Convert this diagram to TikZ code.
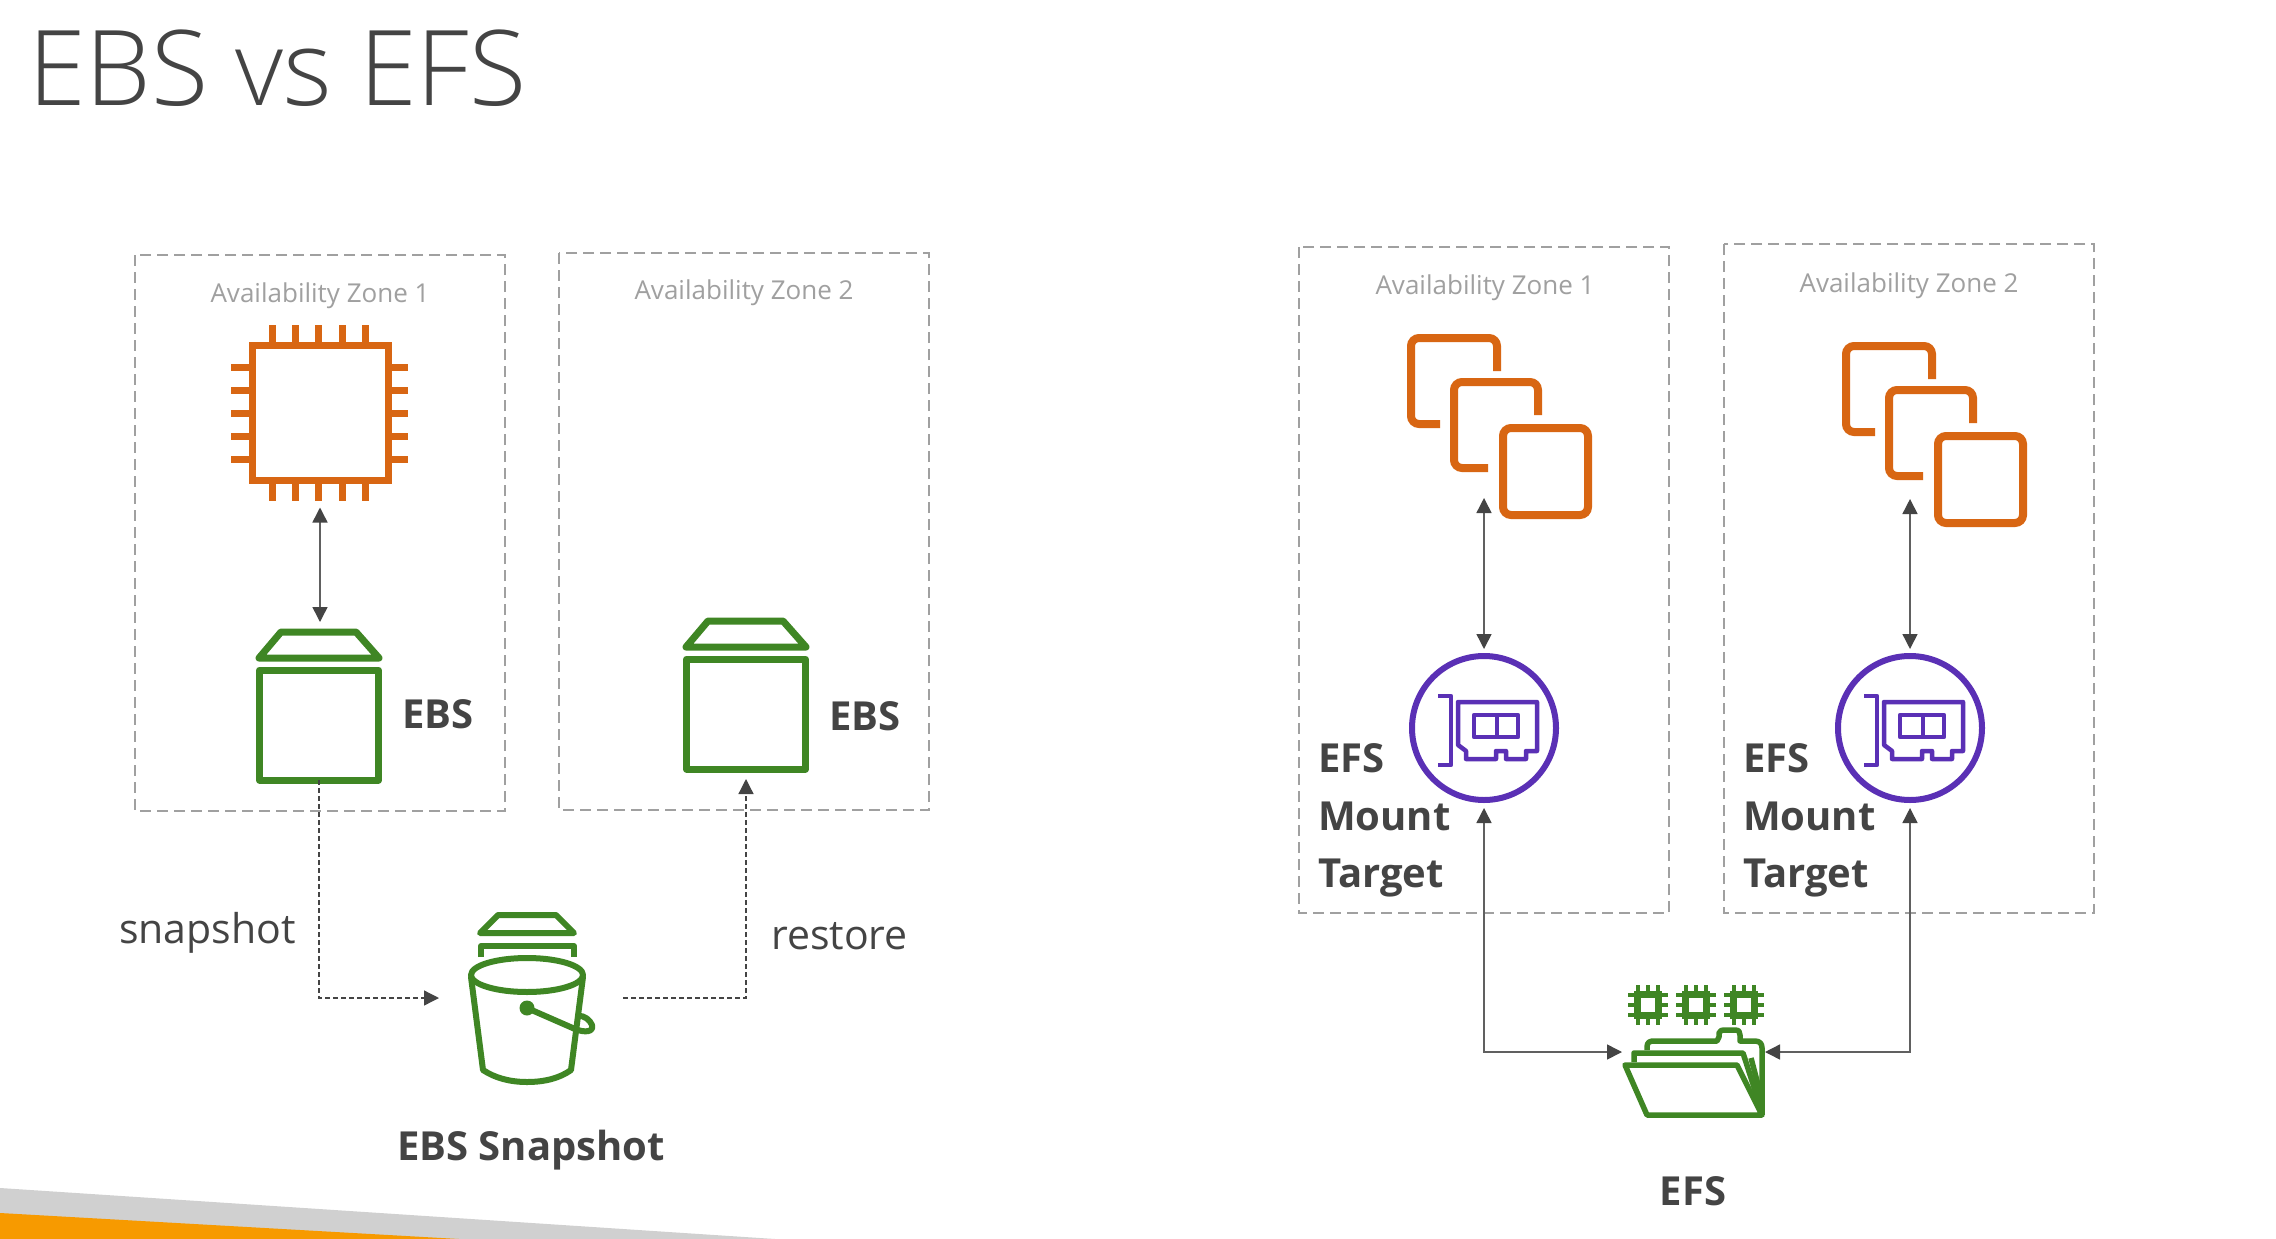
\documentclass[tikz,border=0pt]{standalone}
\usepackage{fontspec}
\setmainfont{Open Sans}
\newfontfamily\titlefont{Open Sans Light}
\usetikzlibrary{arrows.meta,calc}
\definecolor{awsorange}{HTML}{D86613}
\definecolor{awsgreen}{HTML}{3F8624}
\definecolor{awspurple}{HTML}{5A30B5}
\definecolor{inkgray}{HTML}{444444}
\definecolor{zonegray}{HTML}{A0A0A0}
\definecolor{footgray}{HTML}{D0D0D0}
\definecolor{footorange}{HTML}{F79A00}
\tikzset{
  zone/.style={draw=zonegray,line width=2pt,dash pattern=on 11pt off 6pt,fill=none,inner sep=0pt,outer sep=0pt},
  zonelabel/.style={text=zonegray,font=\fontsize{26}{30}\selectfont,anchor=base},
  boldlabel/.style={text=inkgray,font=\fontsize{40}{48}\selectfont\bfseries,anchor=base west,inner sep=0pt},
  plainlabel/.style={text=inkgray,font=\fontsize{41}{48}\selectfont,anchor=base west,inner sep=0pt},
  solidlink/.style={draw=inkgray!85,line width=1.5pt},
  dashlink/.style={draw=inkgray,line width=1.3pt,dash pattern=on 5pt off 3pt},
  tip/.style={-{Triangle[length=15pt,width=15pt,color=inkgray]}},
  bothtips/.style={{Triangle[length=15pt,width=15pt,color=inkgray]}-{Triangle[length=15pt,width=15pt,color=inkgray]}},
  ebsline/.style={draw=awsgreen,line width=7pt,line join=round},
  bucketline/.style={draw=awsgreen,line width=6pt,line join=round,line cap=round},
  folderline/.style={draw=awsgreen,line width=5.5pt,line join=round},
  stack/.style={draw=awsorange,line width=8pt,rounded corners=8pt},
  nicline/.style={draw=awspurple,line width=4.5pt,line join=round},
  chipline/.style={draw=awsorange,line width=7pt},
  ghost/.style={inner sep=0pt,outer sep=0pt},
}
\newcommand{\ebsicon}[3]{% name, dx, dy
  \begin{scope}[shift={(#2,#3)}]
    \draw[ebsline] (259,658) -- (281,632) -- (356,632) -- (379,658) -- cycle;
    \node[ebsline,ghost,minimum width=119pt,minimum height=110pt] (#1) at (319,725) {};
  \end{scope}}
\newcommand{\stackicon}[2]{% dx, dy
  \begin{scope}[shift={(#1,#2)}]
    \draw[stack] (1440,424) -- (1411,424) -- (1411,338) -- (1497,338) -- (1497,371);
    \draw[stack] (1488,468) -- (1454,468) -- (1454,382) -- (1538,382) -- (1538,415);
    \draw[stack] (1503,428) rectangle (1588,515);
  \end{scope}}
\newcommand{\mounticon}[3]{% name, dx, dy
  \begin{scope}[shift={(#2,#3)}]
    \node[draw=awspurple,line width=6pt,circle,ghost,minimum size=144pt] (#1) at (1484,728) {};
    \draw[nicline] (1438,696) -- (1451,696) -- (1451,765) -- (1438,765);
    \draw[nicline] (1458,745) -- (1458,702) -- (1537,702) -- (1537,751) -- (1526,751) -- (1526,759) -- (1506,759) -- (1506,751) -- (1496,751) -- (1496,759) -- (1466,759) -- (1466,751) -- cycle;
    \draw[nicline] (1474,715) rectangle (1518,737);
    \draw[nicline] (1497,715) -- (1497,737);
  \end{scope}}
\newcommand{\minichip}[2]{%
  \begin{scope}[shift={(#1,#2)}]
    \draw[draw=awsgreen,line width=7pt] (-10.5,-10.5) rectangle (10.5,10.5);
    \foreach \p in {-10,0,10}{
      \draw[draw=awsgreen,line width=4pt] (\p,-20) -- (\p,-13);
      \draw[draw=awsgreen,line width=4pt] (\p,13) -- (\p,20);
      \draw[draw=awsgreen,line width=4pt] (-20,\p) -- (-13,\p);
      \draw[draw=awsgreen,line width=4pt] (13,\p) -- (20,\p);
    }
  \end{scope}}
\begin{document}
\begin{tikzpicture}[x=1pt,y=-1pt]
\useasboundingbox (0,0) rectangle (2276,1239);
\fill[white] (0,0) rectangle (2276,1239);

% footer
\fill[footgray] (0,1188) -- (775,1239) -- (0,1239) -- cycle;
\fill[footorange] (0,1213) -- (459,1239) -- (0,1239) -- cycle;

% title
\node[anchor=base west,inner sep=0pt,text=inkgray,font=\titlefont\fontsize{104.5}{120}\selectfont] (title) at (28,106) {EBS vs EFS};

% zones
\draw[zone] (135,255) rectangle (505,811);
\draw[zone] (559,253) rectangle (929,810);
\draw[zone] (1299,247) rectangle (1669,913);
\draw[zone] (1724,244) rectangle (2094,913);
\node[zonelabel] (lz1) at (320,302) {Availability Zone 1};
\node[zonelabel] (lz2) at (744,299) {Availability Zone 2};
\node[zonelabel] (rz1) at (1485,294) {Availability Zone 1};
\node[zonelabel] (rz2) at (1909,292) {Availability Zone 2};

% chip
\node[chipline,ghost,minimum width=136pt,minimum height=135pt] (chip) at (320,413) {};
\foreach \p in {272,295,318,342,365}{
  \draw[chipline] (\p,325) -- (\p,345);
  \draw[chipline] (\p,480) -- (\p,501);
}
\foreach \p in {367,390,413,436,459}{
  \draw[chipline] (231,\p) -- (252,\p);
  \draw[chipline] (388,\p) -- (408,\p);
}

% EBS volumes
\ebsicon{ebsa}{0}{0}
\ebsicon{ebsb}{427}{-11}
\node[boldlabel] (ebsalabel) at (402,728) {EBS};
\node[boldlabel] (ebsblabel) at (829,730) {EBS};

% bucket
\node[ghost,minimum width=184pt,minimum height=10pt] (bucket) at (531,998) {};
\draw[bucketline] (480,933) -- (498,915) -- (556,915) -- (574,933) -- cycle;
\draw[bucketline,line cap=butt] (481,957) -- (481,946) -- (574,946) -- (574,957);
\draw[bucketline] (527,975) ellipse [x radius=56,y radius=17];
\draw[bucketline] (471,977) -- (483,1070) .. controls (495,1078) and (510,1082) .. (527,1082) .. controls (545,1082) and (560,1078) .. (571,1070) -- (583,977);
\fill[awsgreen] (527,1008) circle (7.5);
\draw[bucketline] (527,1008) -- (575,1029) .. controls (585,1033) and (594,1032) .. (592,1025) .. controls (590,1020) and (584,1015) .. (578,1016);
\node[boldlabel,anchor=base] (bucketlabel) at (531,1160) {EBS Snapshot};

% instance stacks
\stackicon{0}{0}
\stackicon{435}{8}

% mount targets
\mounticon{mounta}{0}{0}
\mounticon{mountb}{426}{0}
\foreach \nm/\xx in {a/1318,b/1743}{
  \node[boldlabel] (efs\nm) at (\xx,772) {EFS};
  \node[boldlabel] (mnt\nm) at (\xx,830) {Mount};
  \node[boldlabel] (tgt\nm) at (\xx,887) {Target};
}
\coordinate (stacka) at (mounta.north |- 0,498);
\coordinate (stackb) at (mountb.north |- 0,499);

% EFS folder
\minichip{1648}{1005}
\minichip{1696}{1005}
\minichip{1744}{1005}
\node[ghost,minimum width=143pt,minimum height=10pt] (folder) at (1693.5,1052) {};
\draw[folderline] (1647,1050) -- (1647,1047) .. controls (1647,1042) and (1650,1041) .. (1654,1041) -- (1717,1041) -- (1719,1037) -- (1719,1033) .. controls (1720,1030) and (1722,1030) .. (1725,1030) -- (1735,1030) .. controls (1739,1030) and (1740,1032) .. (1740,1035) -- (1740,1041) -- (1755,1041) .. controls (1760,1041) and (1762,1044) .. (1762,1048) -- (1762,1115);
\draw[folderline] (1634,1062) -- (1634,1053) -- (1743,1053) -- (1762,1112);
\draw[folderline] (1751,1058) -- (1762,1100);
\draw[folderline] (1625,1065) -- (1737,1065) -- (1762,1115) -- (1647,1115) -- cycle;
\node[boldlabel,anchor=base] (efslabel) at (1693,1205) {EFS};

% connectors
\draw[solidlink,bothtips,shorten <=27pt,shorten >=48pt] (chip.south) -- (chip.south |- ebsa.north);
\draw[dashlink,tip] (ebsa.south) |- (bucket.west);
\draw[dashlink,tip,shorten >=10pt] (bucket.east) -| (ebsb.south);
\node[plainlabel] (snaplabel) at (119,943) {snapshot};
\node[plainlabel] (restlabel) at (771,949) {restore};

\draw[solidlink,bothtips,shorten >=7pt] (stacka) -- (mounta.north);
\draw[solidlink,bothtips,shorten >=7pt] (stackb) -- (mountb.north);
\draw[solidlink,bothtips,shorten <=8pt] (mounta.south) |- (folder.west);
\draw[solidlink,bothtips,shorten <=8pt] (mountb.south) |- (folder.east);
\end{tikzpicture}
\end{document}
